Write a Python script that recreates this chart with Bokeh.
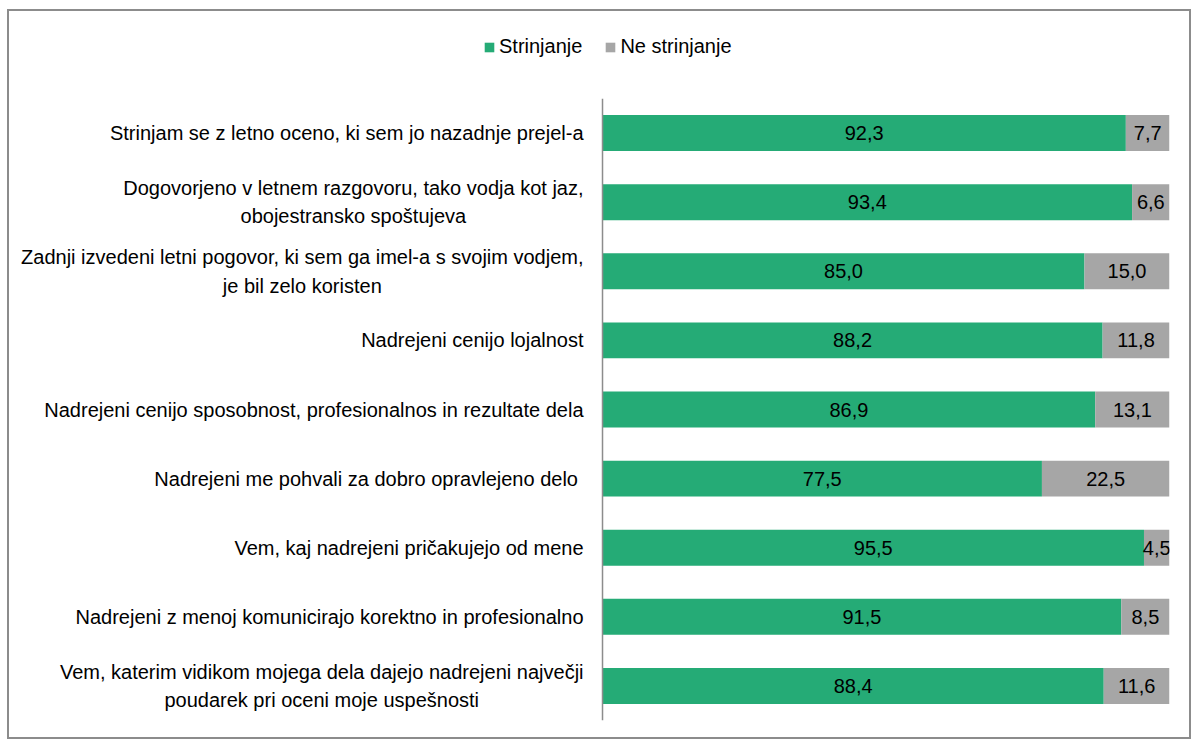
from bokeh.plotting import figure
from bokeh.models import ColumnDataSource, FactorRange, Range1d, Legend, LegendItem, Span
from bokeh.layouts import column
from bokeh.core.properties import value
from bokeh.embed import file_html
from bokeh.resources import INLINE

statements = [
    "Strinjam se z letno oceno, ki sem jo nazadnje prejel-a",
    "Dogovorjeno v letnem razgovoru, tako vodja kot jaz,\nobojestransko spoštujeva",
    "Zadnji izvedeni letni pogovor, ki sem ga imel-a s svojim vodjem,\nje bil zelo koristen",
    "Nadrejeni cenijo lojalnost",
    "Nadrejeni cenijo sposobnost, profesionalnos in rezultate dela",
    "Nadrejeni me pohvali za dobro opravlejeno delo ",
    "Vem, kaj nadrejeni pričakujejo od mene",
    "Nadrejeni z menoj komunicirajo korektno in profesionalno",
    "Vem, katerim vidikom mojega dela dajejo nadrejeni največji\npoudarek pri oceni moje uspešnosti",
]
strinjanje = [92.3, 93.4, 85.0, 88.2, 86.9, 77.5, 95.5, 91.5, 88.4]
ne_strinjanje = [7.7, 6.6, 15.0, 11.8, 13.1, 22.5, 4.5, 8.5, 11.6]
series_names = ["Strinjanje", "Ne strinjanje"]

GREEN = "#25AB76"
GREY = "#A6A6A6"
FONT = "Liberation Sans Narrow, Arial Narrow, Liberation Sans, sans-serif"
FS = "20px"

def fmt(v):
    return f"{v:.1f}".replace(".", ",")

src = ColumnDataSource(dict(
    cat=statements,
    agree=strinjanje,
    disagree=ne_strinjanje,
    agree_mid=[a / 2 for a in strinjanje],
    dis_mid=[a + d / 2 for a, d in zip(strinjanje, ne_strinjanje)],
    agree_lbl=[fmt(v) for v in strinjanje],
    dis_lbl=[fmt(v) for v in ne_strinjanje],
    zero=[0] * len(statements),
))

# ---- main chart ----
p = figure(
    frame_width=1160, frame_height=622,
    y_range=FactorRange(factors=list(reversed(statements)), range_padding=0, factor_padding=0),
    x_range=Range1d(-104.59, 100),
    output_backend="svg", toolbar_location=None,
    min_border_left=0, min_border_right=20, min_border_top=0, min_border_bottom=17,
)
p.xaxis.visible = False
p.yaxis.visible = False
p.grid.visible = False
p.outline_line_color = None

p.hbar(y="cat", left=0, right="agree", height=0.52, source=src,
       fill_color=GREEN, line_color=None)
p.hbar(y="cat", left="agree", right=100, height=0.52, source=src,
       fill_color=GREY, line_color=None)

# axis line
p.add_layout(Span(location=0, dimension="height", line_color="#8c8c8c", line_width=1.5))

# category labels
p.text(x="zero", y="cat", text="cat", source=src, x_offset=-19,
       anchor="center_right", text_align="center", text_baseline="middle",
       text_font=value(FONT), text_font_size=FS, text_color="#000000",
       text_line_height=1.3)

# value labels
p.text(x="agree_mid", y="cat", text="agree_lbl", source=src,
       text_align="center", text_baseline="middle",
       text_font=value(FONT), text_font_size=FS, text_color="#000000")
p.text(x="dis_mid", y="cat", text="dis_lbl", source=src,
       text_align="center", text_baseline="middle",
       text_font=value(FONT), text_font_size=FS, text_color="#000000")

# ---- legend strip ----
lg = figure(
    frame_width=1180, frame_height=87,
    x_range=Range1d(0, 1), y_range=Range1d(0, 1),
    output_backend="svg", toolbar_location=None,
    min_border_left=0, min_border_right=0, min_border_top=0, min_border_bottom=0,
)
lg.xaxis.visible = False
lg.yaxis.visible = False
lg.grid.visible = False
lg.outline_line_color = None
nan = float("nan")
key_src = ColumnDataSource(dict(y=[nan], left=[nan], right=[nan]))
k1 = lg.hbar(y="y", left="left", right="right", height=1, source=key_src,
             fill_color=GREEN, line_color=None)
k2 = lg.hbar(y="y", left="left", right="right", height=1, source=key_src,
             fill_color=GREY, line_color=None)

legend = Legend(items=[LegendItem(label=series_names[0], renderers=[k1]),
                       LegendItem(label=series_names[1], renderers=[k2])],
                orientation="horizontal", location=(474, 40),
                glyph_width=12, glyph_height=12, label_standoff=4, spacing=22,
                padding=0, margin=0, border_line_color=None, background_fill_alpha=0,
                label_text_font=FONT, label_text_font_size=FS,
                label_text_color="#000000")
lg.add_layout(legend)

layout = column(lg, p, spacing=0,
                styles={"border": "2px solid #8c8c8c", "margin-left": "7px", "margin-top": "9px"})

open("out.html", "w").write(file_html(layout, INLINE))
